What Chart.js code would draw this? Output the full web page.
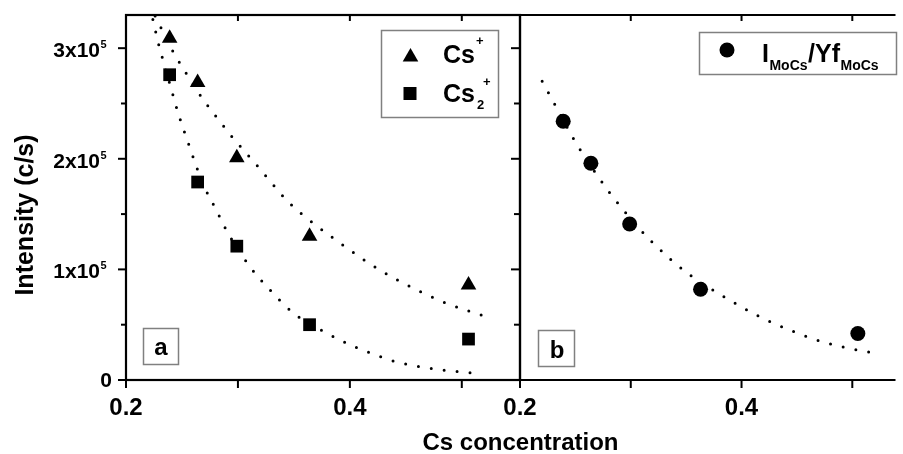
<!DOCTYPE html>
<html><head><meta charset="utf-8">
<script src="https://cdn.jsdelivr.net/npm/chart.js@4.4.1/dist/chart.umd.min.js"></script>
<style>
html,body{margin:0;padding:0;background:#fff;}
#wrap{position:relative;width:903px;height:454px;overflow:hidden;background:#fff;}
canvas{position:absolute;left:0;top:0;}
</style></head><body>
<div id="wrap"><canvas id="ca" width="903" height="454"></canvas><canvas id="cb" width="903" height="454"></canvas></div>
<script>
// ---------- data ----------
const concA = [0.239, 0.264, 0.299, 0.364, 0.506];
const csPlus = [309000, 269000, 201000, 130000, 86000];
const cs2Plus = [276000, 179000, 121000, 50000, 37000];
const concB = [0.239, 0.264, 0.299, 0.363, 0.505];
const moCsRatio = [234000, 196000, 141000, 82000, 42000];

const csPlusFitX = [0.226, 0.231, 0.242, 0.254, 0.268, 0.283, 0.293, 0.317, 0.346, 0.367, 0.398, 0.418, 0.438, 0.480, 0.522];
const csPlusFitY = [329000, 319000, 297000, 277000, 255000, 235000, 222000, 194000, 160000, 142000, 119000, 105000, 93000, 72000, 57000];
const cs2PlusFitX = [0.224, 0.229, 0.232, 0.241, 0.247, 0.254, 0.269, 0.281, 0.291, 0.311, 0.329, 0.349, 0.380, 0.402, 0.422, 0.443, 0.463, 0.483, 0.514];
const cs2PlusFitY = [326000, 304000, 293000, 261000, 240000, 219000, 177000, 153000, 133000, 102000, 81000, 61000, 42000, 31000, 23000, 16000, 12000, 9000, 6000];
const moCsFitX = [0.220, 0.231, 0.249, 0.269, 0.293, 0.321, 0.352, 0.383, 0.413, 0.444, 0.475, 0.505, 0.516];
const moCsFitY = [270000, 250000, 217000, 186000, 154000, 123000, 96000, 76000, 59000, 45000, 34000, 27000, 25000];

const yTickValues = [0, 50000, 100000, 150000, 200000, 250000, 300000];
const yLabelValues = [0, 100000, 200000, 300000];
const yLabelMantissa = ['0', '1x10', '2x10', '3x10'];
const yLabelExponent = ['', '5', '5', '5'];
const xTickValues = [0.2, 0.3, 0.4, 0.5];
const xLabelValues = [0.2, 0.4];
const xLabels = ['0.2', '0.4'];
const yTitle = 'Intensity (c/s)';
const xTitle = 'Cs concentration';

// ---------- helpers ----------
const FONT = "'Liberation Sans', Arial, Helvetica, sans-serif";
function pts(xs, ys) { return xs.map((x, i) => ({ x: x, y: ys[i] })); }
function markerDs(label, xs, ys, style, r) {
  return { label: label, data: pts(xs, ys), pointStyle: style, pointRadius: r, pointHoverRadius: r,
    backgroundColor: '#000', borderColor: '#000', pointBorderWidth: 0, showLine: false, order: 0 };
}
function fitDs(xs, ys) {
  return { data: pts(xs, ys), showLine: true, pointRadius: 0, pointHoverRadius: 0, borderColor: '#000',
    borderWidth: 3, borderDash: [0, 13], borderCapStyle: 'round', cubicInterpolationMode: 'monotone',
    fill: false, order: 1 };
}
function line(ctx, x1, y1, x2, y2) { ctx.beginPath(); ctx.moveTo(x1, y1); ctx.lineTo(x2, y2); ctx.stroke(); }
function scalesFor(xmin, xmax, yWidth) {
  return {
    x: { type: 'linear', min: xmin, max: xmax, display: true, grid: { display: false }, border: { display: false },
      ticks: { display: false }, afterFit(s) { s.height = 74; } },
    y: { type: 'linear', min: 0, max: 330000, display: true, grid: { display: false }, border: { display: false },
      ticks: { display: false }, afterFit(s) { s.width = yWidth; } }
  };
}
function drawTri(ctx, x, y, r) {
  ctx.beginPath();
  for (let k = 0; k < 3; k++) {
    const a = k * 2 * Math.PI / 3;
    const px = x + Math.sin(a) * r, py = y - Math.cos(a) * r;
    if (k === 0) ctx.moveTo(px, py); else ctx.lineTo(px, py);
  }
  ctx.closePath(); ctx.fill();
}

// ---------- panel a decorations ----------
const panelA = {
  id: 'panelA',
  afterDraw(chart) {
    const ctx = chart.ctx, a = chart.chartArea, x = chart.scales.x, y = chart.scales.y;
    ctx.save();
    ctx.strokeStyle = '#000'; ctx.fillStyle = '#000'; ctx.lineWidth = 2.2; ctx.lineCap = 'butt';
    ctx.strokeRect(a.left, a.top, a.right - a.left, a.bottom - a.top);
    ctx.lineWidth = 2;
    yTickValues.forEach(v => {
      const py = y.getPixelForValue(v);
      const major = v % 100000 === 0;
      line(ctx, a.left - (major ? 8 : 5), py, a.left, py);
    });
    xTickValues.forEach(v => {
      const px = x.getPixelForValue(v);
      line(ctx, px, a.bottom, px, a.bottom + 8);
      if (v > 0.2) line(ctx, px, a.top, px, a.top + 6);
    });
    // y tick labels
    yLabelValues.forEach((v, i) => {
      const py = y.getPixelForValue(v);
      ctx.font = 'bold 21px ' + FONT; ctx.textBaseline = 'middle';
      if (yLabelExponent[i] === '') {
        ctx.textAlign = 'right'; ctx.fillText(yLabelMantissa[i], 112, py + 1);
      } else {
        ctx.textAlign = 'right'; ctx.fillText(yLabelMantissa[i], 100, py + 3);
        ctx.font = 'bold 11px ' + FONT; ctx.textAlign = 'left';
        ctx.fillText(yLabelExponent[i], 100.5, py - 3);
      }
    });
    // x tick labels
    ctx.font = 'bold 24px ' + FONT; ctx.textAlign = 'center'; ctx.textBaseline = 'alphabetic';
    xLabelValues.forEach((v, i) => ctx.fillText(xLabels[i], x.getPixelForValue(v), 415));
    // axis titles
    ctx.font = 'bold 24px ' + FONT;
    ctx.fillText(xTitle, 520.5, 450);
    ctx.save(); ctx.translate(33, 215); ctx.rotate(-Math.PI / 2);
    ctx.font = 'bold 25px ' + FONT; ctx.fillText(yTitle, 0, 0); ctx.restore();
    // "a" box
    ctx.strokeStyle = '#808080'; ctx.lineWidth = 1.5;
    ctx.strokeRect(143.5, 328.5, 35, 36);
    ctx.font = 'bold 24px ' + FONT; ctx.textAlign = 'center';
    ctx.fillText('a', 161, 355);
    // legend a
    ctx.strokeRect(381.5, 30.5, 117, 87);
    drawTri(ctx, 410.5, 57, 9);
    ctx.fillRect(403.5, 87, 13, 13);
    ctx.textAlign = 'left'; ctx.font = 'bold 25px ' + FONT;
    const w = ctx.measureText('Cs').width;
    ctx.fillText('Cs', 443, 63);
    ctx.fillText('Cs', 443, 102);
    ctx.font = 'bold 13px ' + FONT; ctx.textBaseline = 'middle';
    ctx.fillText('+', 443 + w + 1, 41);
    ctx.fillText('2', 443 + w + 2, 105);
    ctx.fillText('+', 443 + w + 8, 82);
    ctx.restore();
  }
};

// ---------- panel b decorations ----------
const panelB = {
  id: 'panelB',
  afterDraw(chart) {
    const ctx = chart.ctx, a = chart.chartArea, x = chart.scales.x, y = chart.scales.y;
    ctx.save();
    ctx.strokeStyle = '#000'; ctx.fillStyle = '#000'; ctx.lineWidth = 2.2;
    line(ctx, a.left, a.top, a.right, a.top);
    line(ctx, a.left, a.bottom, a.right, a.bottom);
    line(ctx, a.left, a.top, a.left, a.bottom);
    ctx.lineWidth = 2;
    yTickValues.forEach(v => {
      const py = y.getPixelForValue(v);
      const major = v % 100000 === 0;
      line(ctx, a.left - (major ? 9 : 6), py, a.left, py);
    });
    xTickValues.forEach(v => {
      const px = x.getPixelForValue(v);
      line(ctx, px, a.bottom, px, a.bottom + 8);
      if (v > 0.2) line(ctx, px, a.top, px, a.top + 6);
    });
    ctx.font = 'bold 24px ' + FONT; ctx.textAlign = 'center'; ctx.textBaseline = 'alphabetic';
    xLabelValues.forEach((v, i) => ctx.fillText(xLabels[i], x.getPixelForValue(v), 415));
    // "b" box
    ctx.strokeStyle = '#808080'; ctx.lineWidth = 1.5;
    ctx.strokeRect(538.5, 330.5, 36, 36);
    ctx.fillText('b', 557, 358);
    // legend b
    ctx.strokeRect(699.5, 32.5, 197, 42);
    ctx.beginPath(); ctx.arc(727, 50, 7.5, 0, Math.PI * 2); ctx.fill();
    ctx.textAlign = 'left';
    let cx = 762;
    ctx.font = 'bold 25px ' + FONT; ctx.fillText('I', cx, 62); cx += ctx.measureText('I').width + 0.5;
    ctx.font = 'bold 14px ' + FONT; ctx.fillText('MoCs', cx, 70); cx += ctx.measureText('MoCs').width + 0.5;
    ctx.font = 'bold 25px ' + FONT; ctx.fillText('/Yf', cx, 62); cx += ctx.measureText('/Yf').width + 0.5;
    ctx.font = 'bold 14px ' + FONT; ctx.fillText('MoCs', cx, 70);
    ctx.restore();
  }
};

const common = {
  responsive: false, animation: false, devicePixelRatio: 1,
  plugins: { legend: { display: false }, tooltip: { enabled: false } },
  events: []
};

new Chart(document.getElementById('ca'), {
  type: 'scatter',
  data: { datasets: [
    markerDs('Cs+', concA, csPlus, 'triangle', 9),
    markerDs('Cs2+', concA, cs2Plus, 'rect', 9),
    fitDs(csPlusFitX, csPlusFitY),
    fitDs(cs2PlusFitX, cs2PlusFitY)
  ] },
  options: Object.assign({}, common, {
    layout: { padding: { left: 0, right: 383, top: 15, bottom: 0 } },
    scales: scalesFor(0.2, 0.552, 126)
  }),
  plugins: [panelA]
});

new Chart(document.getElementById('cb'), {
  type: 'scatter',
  data: { datasets: [
    markerDs('IMoCs/YfMoCs', concB, moCsRatio, 'circle', 7.5),
    fitDs(moCsFitX, moCsFitY)
  ] },
  options: Object.assign({}, common, {
    layout: { padding: { left: 520, right: 0, top: 15, bottom: 0 } },
    scales: scalesFor(0.2, 0.539, 0)
  }),
  plugins: [panelB]
});
</script>
</body></html>
